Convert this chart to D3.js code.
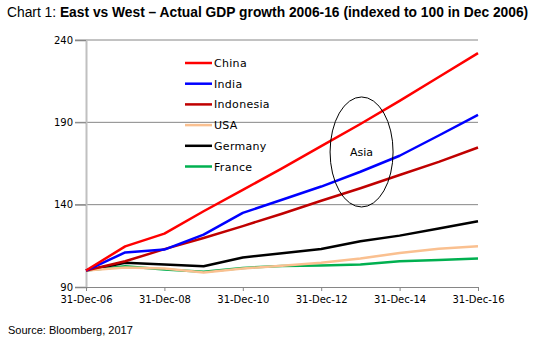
<!DOCTYPE html>
<html>
<head>
<meta charset="utf-8">
<script src="https://cdn.jsdelivr.net/npm/d3@7"></script>
<style>
  body { margin: 0; background: #fff; }
  svg { display: block; }
</style>
</head>
<body>
<svg id="chart" width="545" height="344"></svg>
<script>
const years = [2006, 2007, 2008, 2009, 2010, 2011, 2012, 2013, 2014, 2015, 2016];
const china = [100, 114.7, 122.4, 136, 149, 162, 175.5, 189, 203, 217.5, 232];
const india = [100, 111, 112.7, 121.8, 135, 143, 151, 160, 169.7, 182, 194.5];
const indonesia = [100, 105.6, 113, 119.8, 127, 134.5, 142.4, 150, 158, 166, 174.7];
const usa = [100, 101.8, 101.3, 98.8, 101.3, 102.9, 104.7, 107.3, 110.7, 113.2, 114.7];
const germany = [100, 104.7, 103.6, 102.6, 107.9, 110.5, 113.1, 117.8, 121.2, 125.5, 129.9];
const france = [100, 102.6, 100.6, 99.2, 101.6, 102.8, 103, 103.6, 105.6, 106.4, 107.3];
const seriesNames = ['China', 'India', 'Indonesia', 'USA', 'Germany', 'France'];
const seriesColors = ['#ff0000', '#0000ff', '#c00000', '#fac090', '#000000', '#00b050'];
const yTicks = [90, 140, 190, 240];
const xTickYears = [2006, 2008, 2010, 2012, 2014, 2016];

const series = [china, india, indonesia, usa, germany, france];

const svg = d3.select('#chart');

const x = d3.scaleLinear().domain([2006, 2016]).range([86, 478]);
const y = d3.scaleLinear().domain([90, 240]).range([287, 40]);

// title
const title = svg.append('text')
  .attr('x', 7).attr('y', 17)
  .attr('font-family', 'Liberation Sans, Arial, sans-serif')
  .attr('font-size', 13.8);
title.append('tspan').text('Chart 1: ');
title.append('tspan').attr('font-weight', 'bold')
  .text('East vs West \u2013 Actual GDP growth 2006-16 (indexed to 100 in Dec 2006)');

// gridlines
svg.append('g').selectAll('line')
  .data(yTicks.filter((d) => d > 90))
  .join('line')
  .attr('x1', 75).attr('x2', 478)
  .attr('y1', (d) => y(d)).attr('y2', (d) => y(d))
  .attr('stroke', '#868686').attr('stroke-width', 1);

// y axis
const yAxis = svg.append('g')
  .attr('transform', 'translate(86,0)')
  .call(d3.axisLeft(y).tickValues(yTicks).tickSize(11).tickPadding(2));
yAxis.select('.domain').attr('stroke', '#c0c0c0').attr('stroke-width', 2);
yAxis.selectAll('.tick line').attr('stroke', '#868686');
yAxis.selectAll('.tick text')
  .attr('font-family', 'DejaVu Sans, sans-serif').attr('font-size', 10).attr('fill', '#000');

// x axis
const xAxis = svg.append('g')
  .attr('transform', `translate(0,${y(90)})`)
  .call(d3.axisBottom(x).tickValues(xTickYears).tickSize(4).tickPadding(5)
    .tickFormat((d) => `31-Dec-${String(d).slice(2)}`));
xAxis.select('.domain').attr('stroke', '#868686');
xAxis.selectAll('.tick line').attr('stroke', '#868686');
xAxis.selectAll('.tick text')
  .attr('font-family', 'DejaVu Sans, sans-serif').attr('font-size', 10).attr('fill', '#000');

// lines
const line = d3.line()
  .x((d, i) => x(years[i]))
  .y((d) => y(d));

// draw back to front so China sits on top
svg.append('g').selectAll('path')
  .data(series.map((s, i) => ({ s, i })).reverse())
  .join('path')
  .attr('d', (d) => line(d.s))
  .attr('fill', 'none')
  .attr('stroke', (d) => seriesColors[d.i])
  .attr('stroke-width', 2.5)
  .attr('stroke-linejoin', 'round');

// legend
const legend = svg.append('g');
seriesNames.forEach((name, i) => {
  const ly = 63 + i * 20.7;
  legend.append('line')
    .attr('x1', 185).attr('x2', 212)
    .attr('y1', ly).attr('y2', ly)
    .attr('stroke', seriesColors[i]).attr('stroke-width', 2.5);
  legend.append('text')
    .attr('x', 214).attr('y', ly + 4)
    .attr('font-family', 'DejaVu Sans, sans-serif')
    .attr('font-size', 11)
    .attr('letter-spacing', 0.3)
    .text(name);
});

// Asia annotation
const cx = x(2013.03);
const cy = y(172);
svg.append('ellipse')
  .attr('cx', cx).attr('cy', cy)
  .attr('rx', 31.5).attr('ry', 55)
  .attr('fill', 'none').attr('stroke', '#000').attr('stroke-width', 1);
svg.append('text')
  .attr('x', cx).attr('y', cy + 4)
  .attr('text-anchor', 'middle')
  .attr('font-family', 'DejaVu Sans, sans-serif')
  .attr('font-size', 11)
  .text('Asia');

// source
svg.append('text')
  .attr('x', 8).attr('y', 334)
  .attr('font-family', 'Liberation Sans, Arial, sans-serif')
  .attr('font-size', 11)
  .text('Source: Bloomberg, 2017');
</script>
</body>
</html>
